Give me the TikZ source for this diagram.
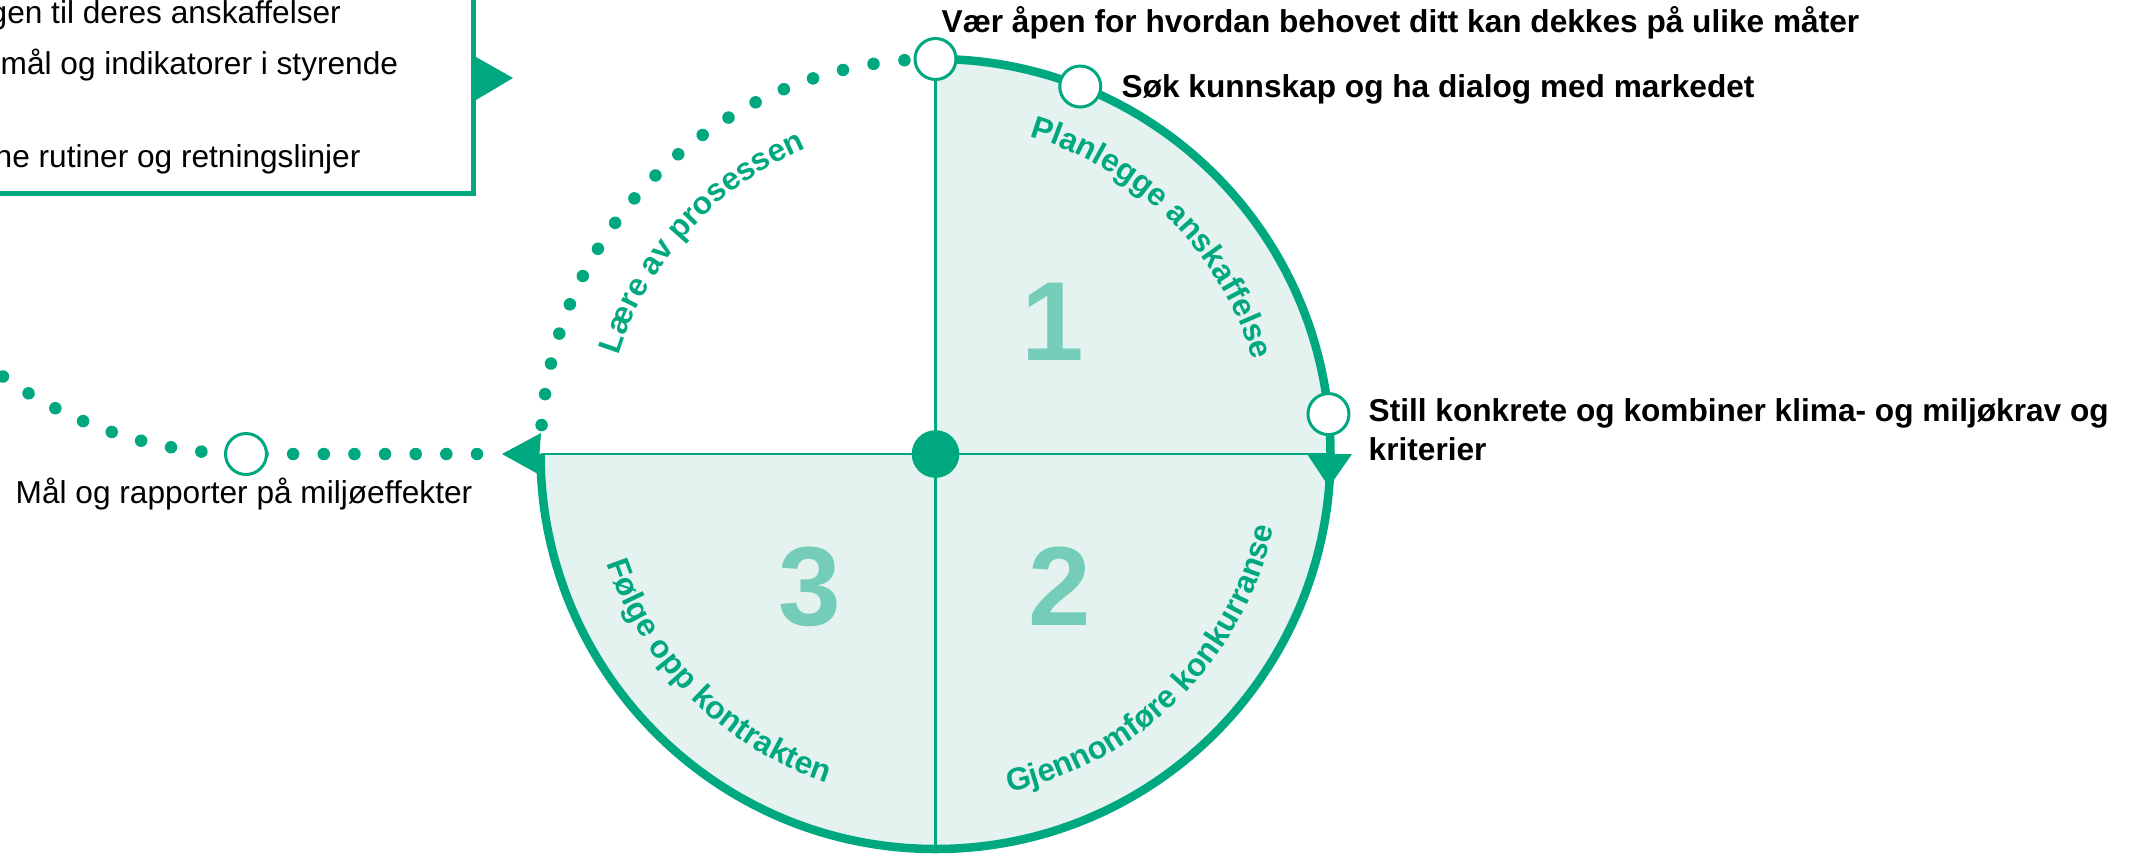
\documentclass[tikz,border=0pt]{standalone}
\usepackage{fontspec}
\setmainfont{Liberation Sans}
\usetikzlibrary{decorations.text,positioning}
\definecolor{procgreen}{RGB}{0,168,128}
\definecolor{procfill}{RGB}{228,242,240}
\definecolor{proclight}{RGB}{115,205,184}

\begin{document}
\begin{tikzpicture}[
    ring/.style={draw=procgreen, line width=0.085cm},
    divider/.style={draw=procgreen, line width=0.027cm},
    sector/.style={fill=procfill},
    tipfill/.style={fill=procgreen},
    dotpath/.style={draw=procgreen, line width=0.125cm, line cap=round, dash pattern=on 0.01pt off #1},
    stopnode/.style={circle, draw=procgreen, line width=0.03cm, fill=white, minimum size=0.41cm, inner sep=0pt},
    note/.style={inner sep=0pt, anchor=base west, font=\fontsize{9}{11}\selectfont},
    boldnote/.style={note, font=\fontsize{9}{11}\selectfont\bfseries},
    phase/.style={font=\fontsize{32}{32}\selectfont\bfseries, text=proclight, inner sep=0pt},
    arctext/.style={decorate, decoration={text along path, text align=center, text color=procgreen,
        text={|\fontsize{9}{11}\selectfont\bfseries|#1}}}
  ]

    \useasboundingbox (0,0) rectangle (21.44,8.53);
    \clip (0,0) rectangle (21.44,8.53);

    \coordinate (C) at (9.355,3.99);
    \coordinate (ringN) at ([shift={(90:3.95)}]C);
    \coordinate (ringS) at ([shift={(270:3.95)}]C);
    \coordinate (ringW) at ([shift={(180:3.95)}]C);
    \coordinate (ringE) at ([shift={(0:3.95)}]C);
    \coordinate (maalc) at (2.46,3.99);
    \coordinate (dotsE) at (4.77,3.99);

    \fill[sector] (C) -- (ringE) arc (0:90:3.95) -- cycle;
    \fill[sector] (C) -- (ringW) arc (180:360:3.95) -- cycle;
    \draw[divider] (ringN) -- (ringS);
    \draw[divider] (ringW) -- (ringE);
    \draw[ring] (ringN) arc (90:-180:3.95);
    \fill[tipfill] (13.07,3.99) -- (13.52,3.99) -- (13.29,3.66) -- cycle;
    \fill[tipfill] (5.02,3.99) -- (5.41,4.20) -- (5.38,3.79) -- cycle;

    \draw[dotpath=0.306cm] (dotsE) -- (maalc) arc (270:228:4.2);
    \draw[dotpath=0.311cm] ([shift={(175.8:3.95)}]C) arc (175.8:90:3.95);

    \draw[draw=procgreen, line width=0.05cm] (-0.5,6.60) rectangle (4.733,9.5);
    \fill[tipfill] (4.76,7.96) -- (5.13,7.75) -- (4.76,7.53) -- cycle;
    \node[note] (boxA) at (-0.11,8.30) {gen til deres anskaffelser};
    \node[note] (boxB) at (0.0,7.79) {mål og indikatorer i styrende};
    \node[note] (boxC) at (-0.06,6.86) {ne rutiner og retningslinjer};

    \node[stopnode] (apen) at (ringN) {};
    \node[stopnode] (sok) at ([shift={(68.5:3.95)}]C) {};
    \node[stopnode] (krav) at ([shift={(5.8:3.95)}]C) {};
    \node[stopnode] (maal) at (maalc) {};
    \fill[procgreen] (C) circle (0.238);

    \node[boldnote] (apentxt) at (9.41,8.205) {Vær åpen for hvordan behovet ditt kan dekkes på ulike måter};
    \node[boldnote] (soktxt) at (11.21,7.56) {Søk kunnskap og ha dialog med markedet};
    \node[boldnote] (kravtxt) at (13.68,4.313) {Still konkrete og kombiner klima- og miljøkrav og};
    \node[boldnote] (kravtxt2) at (13.68,3.93) {kriterier};
    \node[note] (maaltxt) at (0.15,3.497) {Mål og rapporter på miljøeffekter};

    \node[phase] (p1) at (10.53,5.31) {1};
    \node[phase] (p2) at (10.60,2.67) {2};
    \node[phase] (p3) at (8.10,2.66) {3};

    \path[arctext={Planlegge anskaffelse}] ([shift={(89:3.31)}]C) arc (89:1:3.31);
    \path[arctext={Lære av prosessen}] ([shift={(181.5:3.32)}]C) arc (181.5:94.1:3.32);
    \path[arctext={Gjennomføre konkurranse}] ([shift={(-90:3.46)}]C) arc (-90:0:3.46);
    \path[arctext={Følge opp kontrakten}] ([shift={(180:3.46)}]C) arc (180:270:3.46);

\end{tikzpicture}
\end{document}
